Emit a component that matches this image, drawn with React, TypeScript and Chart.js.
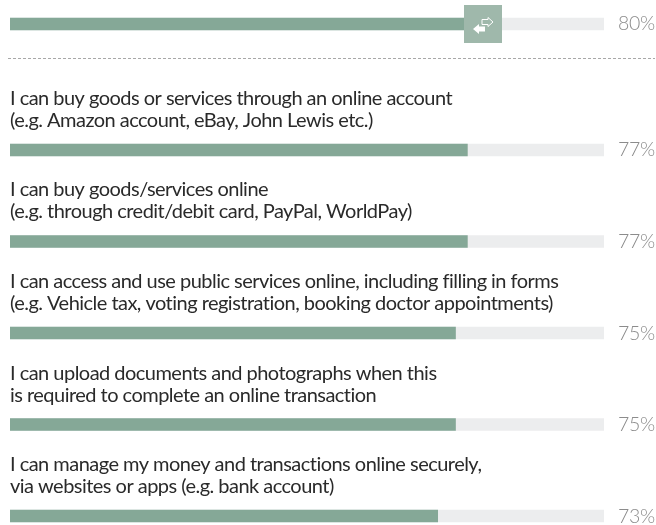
import React, { useEffect, useRef } from "react";
import { Chart, registerables } from "chart.js";

Chart.register(...registerables);

const headlineValue = [80];
const statements = [
  ["I can buy goods or services through an online account", "(e.g. Amazon account, eBay, John Lewis etc.)"],
  ["I can buy goods/services online", "(e.g. through credit/debit card, PayPal, WorldPay)"],
  ["I can access and use public services online, including filling in forms", "(e.g. Vehicle tax, voting registration, booking doctor appointments)"],
  ["I can upload documents and photographs when this", "is required to complete an online transaction"],
  ["I can manage my money and transactions online securely,", "via websites or apps (e.g. bank account)"],
];
const statementValues = [77, 77, 75, 75, 72];
const valueLabels = ["80%", "77%", "77%", "75%", "75%", "73%"];
const rowPositions = [0, 1.377, 2.377, 3.377, 4.377, 5.377];
const trackValue = 100;

const FONT = 'Lato';
const BAR = "#85a897";
const TRACK = "#ecedee";

const overlay = {
  id: "overlay",
  afterDatasetsDraw(chart: any) {
    const { ctx, scales } = chart;
    const yS = scales.y;
    const xS = scales.x;
    ctx.save();
    ctx.textBaseline = "alphabetic";
    ctx.textAlign = "left";
    // percent labels
    ctx.font = `300 19.5px ${FONT}`;
    (ctx as any).letterSpacing = "-0.3px";
    ctx.fillStyle = "#8c8c8c";
    valueLabels.forEach((t, i) => {
      ctx.fillText(t, xS.getPixelForValue(trackValue) + 14, yS.getPixelForValue(rowPositions[i]) + 6.5);
    });
    // statements
    ctx.font = `400 20px ${FONT}`;
    (ctx as any).letterSpacing = "0px";
    const probe = statements[2][0];
    const spacing = (548 - ctx.measureText(probe).width) / probe.length;
    (ctx as any).letterSpacing = `${spacing}px`;
    ctx.fillStyle = "#2a2a2a";
    statements.forEach((lines, i) => {
      const c = yS.getPixelForValue(rowPositions[i + 1]);
      ctx.fillText(lines[0], xS.getPixelForValue(0), c - 45);
      ctx.fillText(lines[1], xS.getPixelForValue(0), c - 23);
    });
    (ctx as any).letterSpacing = "0px";
    // dashed divider
    ctx.strokeStyle = "#a8a8a8";
    ctx.lineWidth = 1;
    ctx.setLineDash([3, 2]);
    ctx.beginPath();
    ctx.moveTo(8, 58.5);
    ctx.lineTo(655, 58.5);
    ctx.stroke();
    ctx.setLineDash([]);
    // icon tile
    const ix = 464, iy = 5;
    ctx.fillStyle = "#9fb8ab";
    ctx.fillRect(ix, iy, 38, 38);
    ctx.fillStyle = "#ffffff";
    ctx.beginPath();
    ctx.moveTo(ix + 9, iy + 24);
    ctx.lineTo(ix + 15, iy + 19);
    ctx.lineTo(ix + 15, iy + 21.5);
    ctx.lineTo(ix + 21, iy + 21.5);
    ctx.lineTo(ix + 21, iy + 26.5);
    ctx.lineTo(ix + 15, iy + 26.5);
    ctx.lineTo(ix + 15, iy + 29);
    ctx.closePath();
    ctx.fill();
    ctx.strokeStyle = "#ffffff";
    ctx.beginPath();
    ctx.moveTo(ix + 29, iy + 17);
    ctx.lineTo(ix + 24, iy + 12.5);
    ctx.lineTo(ix + 24, iy + 14.5);
    ctx.lineTo(ix + 18, iy + 14.5);
    ctx.lineTo(ix + 18, iy + 19.5);
    ctx.lineTo(ix + 24, iy + 19.5);
    ctx.lineTo(ix + 24, iy + 21.5);
    ctx.closePath();
    ctx.stroke();
    ctx.restore();
  },
};

export default function App() {
  const ref = useRef<HTMLCanvasElement | null>(null);
  useEffect(() => {
    const values = [...headlineValue, ...statementValues];
    const chart = new Chart(ref.current!, {
      type: "bar",
      data: {
        datasets: [
          {
            data: values.map((v, i) => ({ x: v, y: rowPositions[i] })),
            backgroundColor: BAR,
            barThickness: 12,
            grouped: false,
            order: 1,
          },
          {
            data: rowPositions.map((p) => ({ x: trackValue, y: p })),
            backgroundColor: TRACK,
            barThickness: 12,
            grouped: false,
            order: 2,
          },
        ],
      } as any,
      options: {
        indexAxis: "y",
        animation: false,
        responsive: false,
        layout: { padding: { left: 10, right: 52, top: 0, bottom: 0 } },
        plugins: { legend: { display: false }, tooltip: { enabled: false } },
        scales: {
          x: { type: "linear", min: 0, max: trackValue, display: false },
          y: { type: "linear", min: -0.262, max: 5.475, reverse: true, display: false, offset: false },
        },
      } as any,
      plugins: [overlay],
    });
    return () => chart.destroy();
  }, []);
  return (
    <canvas
      ref={ref}
      width={656}
      height={525}
      style={{ position: "absolute", left: 0, top: 0, width: 656, height: 525, display: "block" }}
    />
  );
}
